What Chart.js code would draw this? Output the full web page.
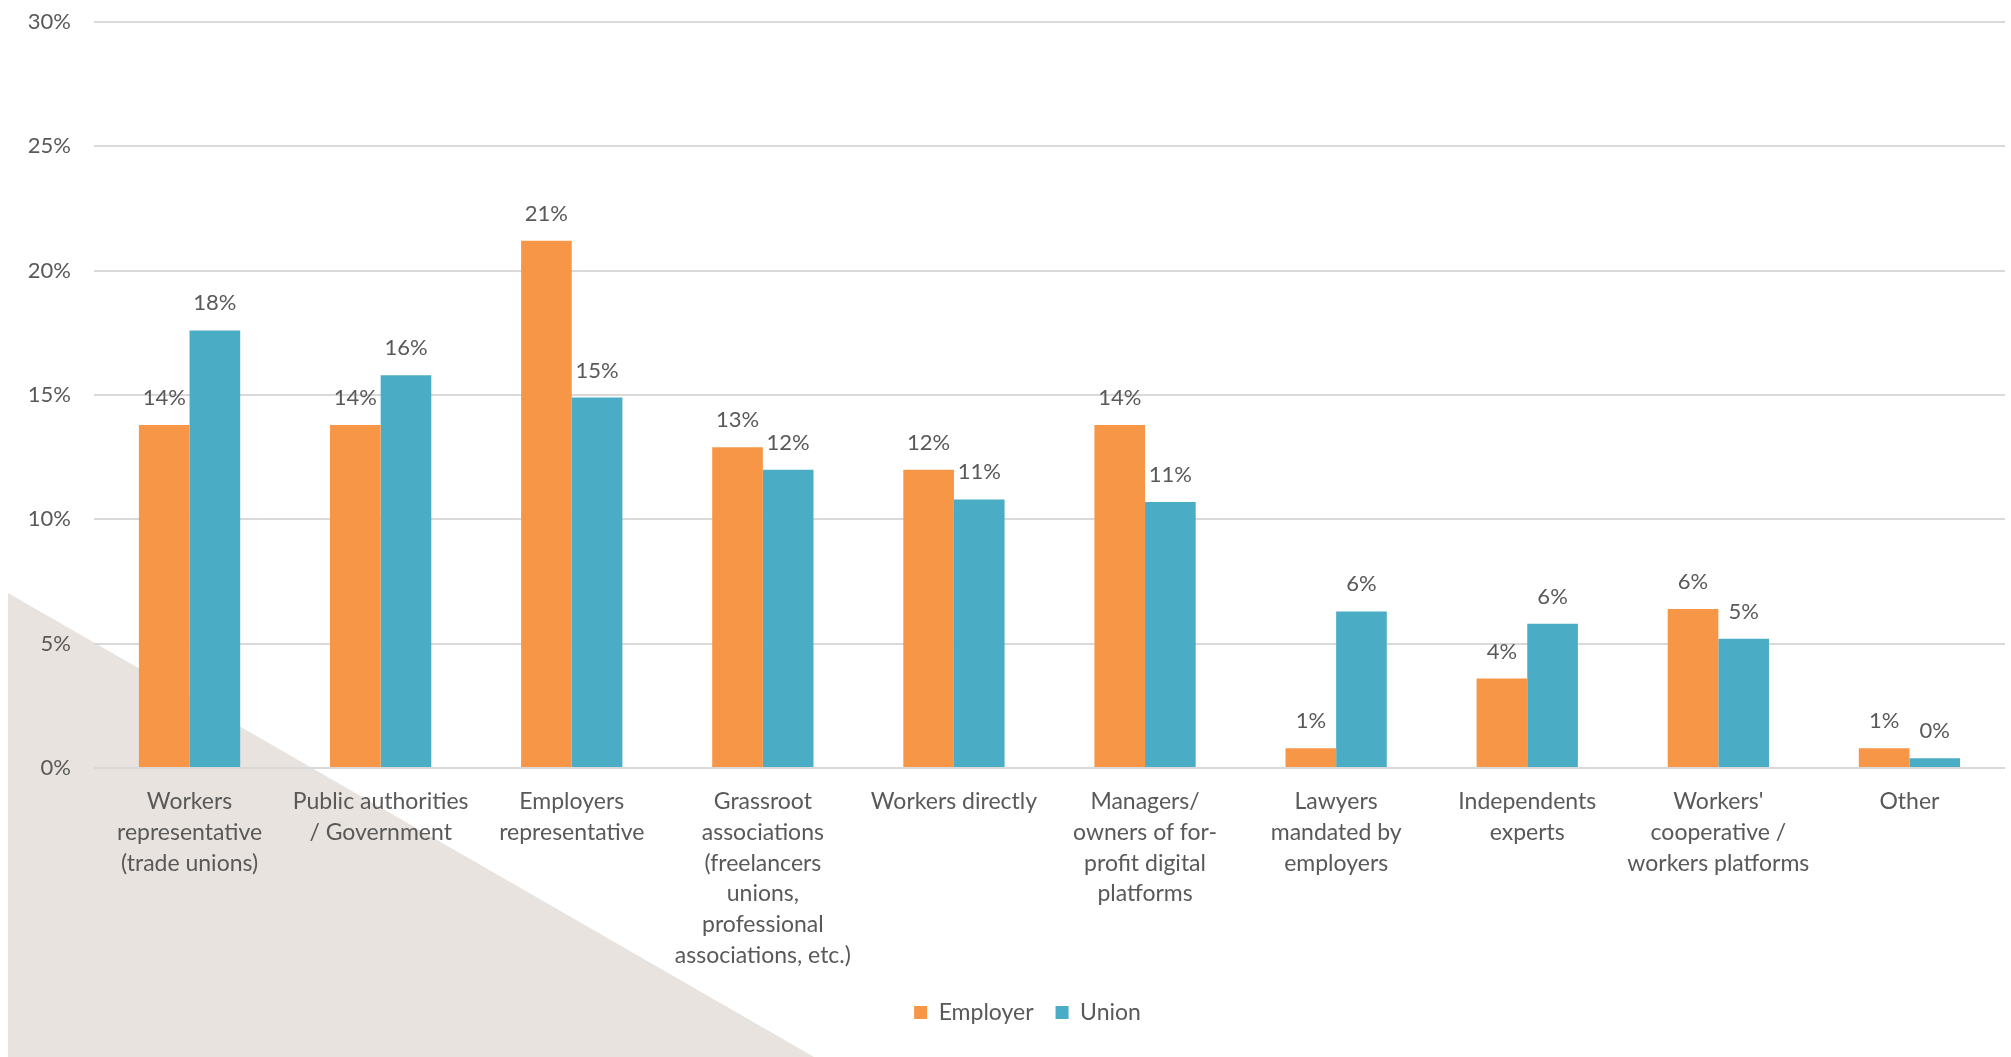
<!DOCTYPE html>
<html>
<head>
<meta charset="utf-8">
<title>Employer vs Union</title>
<script src="https://cdn.jsdelivr.net/npm/chart.js@4.4.1/dist/chart.umd.min.js"></script>
<style>
  html, body { margin: 0; padding: 0; background: #fff; }
  #wrap { position: relative; width: 2011px; height: 1057px; overflow: hidden; }
  /* decorative beige corner */
  #corner {
    position: absolute; left: 0; top: 0; width: 2011px; height: 1057px;
    background: #e8e3de;
    clip-path: polygon(8px 593px, 814px 1057px, 8px 1057px);
  }
  #chart { position: absolute; left: 0; top: 0; }
</style>
</head>
<body>
<div id="wrap">
  <div id="corner"></div>
  <canvas id="chart" width="2011" height="1057"></canvas>
</div>
<script>
// categories (multi-line x labels)
const categories = [
  ["Workers", "representative", "(trade unions)"],
  ["Public authorities", "/ Government"],
  ["Employers", "representative"],
  ["Grassroot", "associations", "(freelancers", "unions,", "professional", "associations, etc.)"],
  ["Workers directly"],
  ["Managers/", "owners of for-", "profit digital", "platforms"],
  ["Lawyers", "mandated by", "employers"],
  ["Independents", "experts"],
  ["Workers'", "cooperative /", "workers platforms"],
  ["Other"],
];

// values in %
const employer = [13.8, 13.8, 21.2, 12.9, 12.0, 13.8, 0.8, 3.6, 6.4, 0.8];
const union = [17.6, 15.8, 14.9, 12.0, 10.8, 10.7, 6.3, 5.8, 5.2, 0.4];

const yTicks = [0, 5, 10, 15, 20, 25, 30];

const TEXT = "#595959";
const FONT = "Lato, 'Open Sans', sans-serif";

Chart.defaults.font.family = FONT;
Chart.defaults.color = TEXT;

// value labels above each bar
const barLabels = {
  id: "barLabels",
  afterDatasetsDraw(chart) {
    const { ctx } = chart;
    ctx.save();
    ctx.font = "22px " + FONT;
    ctx.fillStyle = TEXT;
    ctx.textAlign = "center";
    ctx.textBaseline = "alphabetic";
    chart.data.datasets.forEach((ds, i) => {
      const meta = chart.getDatasetMeta(i);
      meta.data.forEach((bar, j) => {
        ctx.fillText(Math.round(ds.data[j]) + "%", bar.x, bar.y - 20);
      });
    });
    ctx.restore();
  },
};

// nudge the legend a little, like the original
const legendShift = {
  id: "legendShift",
  afterLayout(chart) {
    const lg = chart.legend;
    if (!lg) return;
    lg.left += 12;
    lg.right += 12;
    lg.top -= 10;
    lg.bottom -= 10;
  },
};

new Chart(document.getElementById("chart"), {
  type: "bar",
  data: {
    labels: categories,
    datasets: [
      { label: "Employer", data: employer, backgroundColor: "#f79646" },
      { label: "Union", data: union, backgroundColor: "#4bacc6" },
    ],
  },
  options: {
    responsive: false,
    animation: false,
    layout: { padding: { top: 22, left: 26, right: 6, bottom: 13 } },
    datasets: {
      bar: { barPercentage: 1.0, categoryPercentage: 0.53 },
    },
    plugins: {
      legend: {
        position: "bottom",
        labels: {
          boxWidth: 13,
          boxHeight: 13,
          padding: 22,
          font: { size: 23 },
          color: TEXT,
        },
      },
      tooltip: { enabled: false },
    },
    scales: {
      x: {
        grid: { display: false, drawTicks: false },
        border: { display: false },
        ticks: {
          autoSkip: false,
          maxRotation: 0,
          padding: 18,
          font: { size: 23, lineHeight: 1.34 },
          color: TEXT,
        },
      },
      y: {
        min: 0,
        max: 30,
        afterBuildTicks: (axis) => {
          axis.ticks = yTicks.map((v) => ({ value: v }));
        },
        afterFit: (axis) => {
          axis.width = 68;
          axis.paddingTop = 0;
        },
        grid: { color: "#d9d9d9", lineWidth: 2, drawTicks: false },
        border: { display: false },
        ticks: {
          padding: 23,
          font: { size: 22 },
          color: TEXT,
          callback: (v) => v + "%",
        },
      },
    },
  },
  plugins: [barLabels, legendShift],
});
</script>
</body>
</html>
